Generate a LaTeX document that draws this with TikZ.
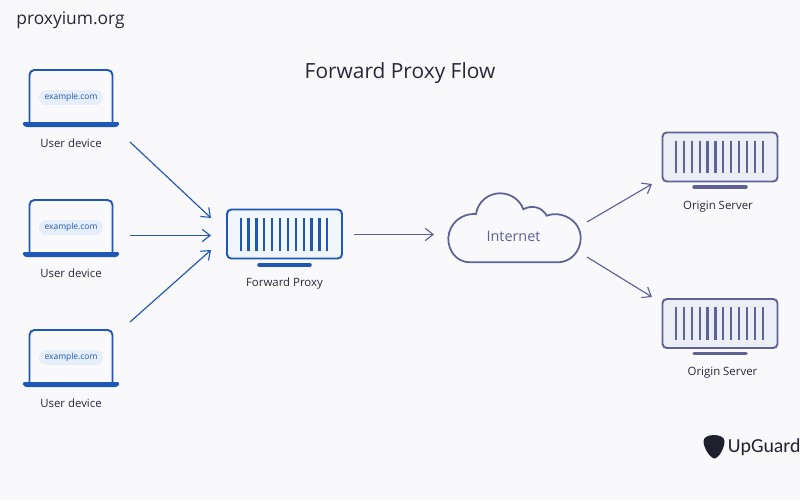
\documentclass[tikz,border=0pt]{standalone}
\usepackage{xcolor}
\usepackage{fontspec}
\setmainfont{Open Sans}
\newfontfamily\brandfont{Carlito}
\usetikzlibrary{arrows.meta, positioning, calc}

\definecolor{pagebg}{HTML}{F9F9FC}
\definecolor{devblue}{HTML}{1F57B5}
\definecolor{pillblue}{HTML}{E6EEFA}
\definecolor{proxyfill}{HTML}{F1F6FD}
\definecolor{srvline}{HTML}{5F6297}
\definecolor{srvfill}{HTML}{ECEEF6}
\definecolor{inkdark}{HTML}{262838}

\tikzset{
    flowblue/.style={draw=devblue, line width=0.65pt, -{Straight Barb[length=4.5pt, width=7pt]}},
    flowgrey/.style={draw=srvline, line width=0.65pt, -{Straight Barb[length=4.5pt, width=7pt]}},
    caption/.style={font=\fontsize{6.5}{8}\selectfont, text=inkdark, inner sep=0pt},
    rackbox/.style={draw, rounded corners=2.4pt, line width=1.1pt, minimum width=2.3cm, minimum height=0.98cm, inner sep=0pt}
}

\begin{document}
\begin{tikzpicture}[x=0.02cm, y=-0.02cm]
    \useasboundingbox (0,0) rectangle (800,500);
    \fill[pagebg] (0,0) rectangle (800,500);

    % Headings
    \node[font=\fontsize{9.9}{12}\selectfont, text=inkdark, inner sep=0pt] (site) at (70.5,20) {proxyium.org};
    \node[font=\fontsize{11.9}{14}\selectfont, text=inkdark, inner sep=0pt] (title) at (400,73) {Forward Proxy Flow};

    % Laptops
    \foreach \i/\y in {1/0, 2/130, 3/260} {
        \draw[devblue, line width=1.1pt, rounded corners=2.8pt] (29.5,122+\y) -- (29.5,70+\y) -- (112.5,70+\y) -- (112.5,122+\y);
        \fill[devblue, rounded corners=1.5pt] (22,122+\y) -- (120,122+\y) -- (118,127+\y) -- (24,127+\y) -- cycle;
        \node[fill=pillblue, rounded corners=4.2pt, minimum width=1.28cm, minimum height=0.3cm, inner sep=0pt,
            font=\fontsize{4.8}{6}\selectfont, text=devblue] (laptop\i) at (71,97.5+\y) {example.com};
        \node[caption] (user\i) at (71,143.5+\y) {User device};
    }

    % Forward proxy
    \node[rackbox, draw=devblue, fill=proxyfill] (proxy) at (284.5,234) {};
    \foreach \i in {0,...,11} {
        \draw[devblue, line width=1.3pt] (240.7+\i*7.87,218) -- (240.7+\i*7.87,251);
    }
    \draw[devblue, line width=2pt, line cap=round] (259,265) -- (310,265);
    \node[caption] (proxylabel) at (284.5,283.5) {Forward Proxy};

    % Internet cloud
    \draw[srvline, line width=1pt, fill=pagebg] (470,262.3)
        .. controls (456,262.3) and (448,250) .. (448.3,238)
        .. controls (449,224) and (461,213) .. (476,214)
        .. controls (478,201) and (489,193.3) .. (500,193.3)
        .. controls (511,193.3) and (520,200) .. (523.3,209.3)
        .. controls (532,204.5) and (542,207) .. (546.7,215.7)
        .. controls (562,210) and (581,221) .. (580.7,238.3)
        .. controls (580.5,252) and (570,262.3) .. (558,262.3)
        -- cycle;
    \node[font=\fontsize{8.2}{10}\selectfont, text=srvline, inner sep=0pt] (cloud) at (513.5,236) {Internet};

    % Origin servers
    \foreach \i/\y in {1/0, 2/166.5} {
        \node[rackbox, draw=srvline, fill=srvfill] (server\i) at (720,157+\y) {};
        \foreach \j in {0,...,11} {
            \draw[srvline, line width=1.3pt] (676+\j*7.88,140.7+\y) -- (676+\j*7.88,173+\y);
        }
        \draw[srvline, line width=2pt, line cap=round] (694,187+\y) -- (746,187+\y);
    }
    \node[caption] (serverlabel1) at (718,207) {Origin Server};
    \node[caption] (serverlabel2) at (722.5,373) {Origin Server};

    % Arrow ends
    \coordinate (out1) at (130,142);
    \coordinate (out2) at (130,235.5);
    \coordinate (out3) at (130,322);
    \coordinate (in1) at (211,218);
    \coordinate (in2) at (211,235.5);
    \coordinate (in3) at (211,250);
    \coordinate (proxyout) at (354,234.5);
    \coordinate (cloudin) at (434,234.5);
    \coordinate (cloudout1) at (587,222);
    \coordinate (cloudout2) at (587,257);
    \coordinate (srvin1) at (652,184);
    \coordinate (srvin2) at (652,297);

    \foreach \i in {1,2,3} {
        \draw[flowblue] (out\i) -- (in\i);
    }
    \draw[flowgrey] (proxyout) -- (cloudin);
    \draw[flowgrey] (cloudout1) -- (srvin1);
    \draw[flowgrey] (cloudout2) -- (srvin2);

    % Logo
    \fill[inkdark!80!black] (703.5,441)
        .. controls (703.5,437) and (709,435) .. (714,435)
        .. controls (719,435) and (724.5,437) .. (724.5,441)
        .. controls (724.5,448) and (719,458) .. (714.5,458.5)
        .. controls (710,458) and (703.5,448) .. (703.5,441) -- cycle;
    \node[font=\brandfont\fontsize{11.3}{14}\selectfont, text=inkdark!80!black, anchor=west, inner sep=0pt] (brand) at (727.5,447) {UpGuard};
\end{tikzpicture}
\end{document}
